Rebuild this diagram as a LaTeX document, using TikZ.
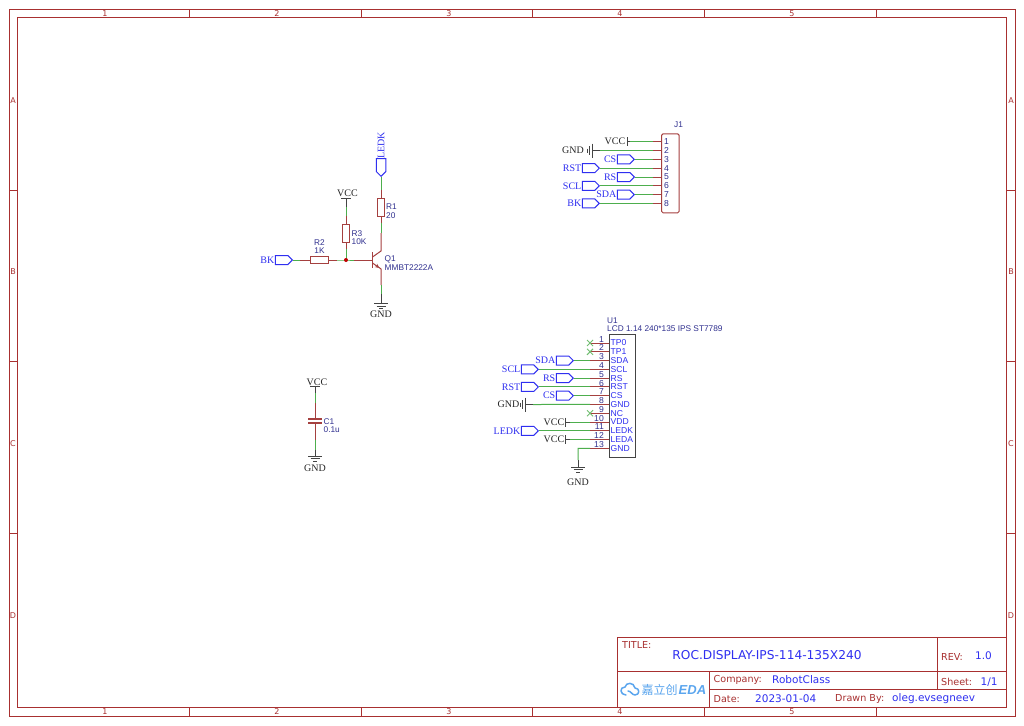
\documentclass[tikz,border=0pt]{standalone}
\usepackage{fontspec}
\setmainfont{Liberation Serif}
\newfontfamily\partfont{Liberation Sans}
\newfontfamily\sheetfont{DejaVu Sans}
\newfontfamily\cjk{Noto Sans CJK SC}
\usetikzlibrary{
    arrows.meta, % for the emitter arrow
    shapes.symbols, % for the net flags
    positioning
}
\definecolor{sheetred}{HTML}{A83030}
\definecolor{pinred}{HTML}{A5403F}
\definecolor{wiregreen}{HTML}{4DAE4D}
\definecolor{netblue}{HTML}{2F2FF0}
\definecolor{partblue}{HTML}{30308F}
\definecolor{symgrey}{HTML}{444444}
\definecolor{logoblue}{HTML}{5AA5EE}

\tikzset{
    wire/.style      = {wiregreen,line width=1pt},
    pin/.style       = {pinred,line width=1pt},
    stub/.style      = {symgrey,line width=1pt},
    part/.style      = {draw=pinred,line width=1pt,fill=white,inner sep=0pt},
    frameline/.style = {draw=sheetred,line width=1pt},
    netflag/.style   = {signal,signal to=east,draw=netblue,line width=1pt,fill=white,anchor=east,
                        minimum width=17pt,minimum height=9pt,inner sep=0pt},
    netname/.style   = {netblue,font=\fontsize{10}{11}\selectfont,inner sep=0.3pt},
    power/.style     = {black!85,font=\fontsize{10}{11}\selectfont,inner sep=0pt},
    refname/.style   = {partblue,font=\partfont\fontsize{8.3}{9}\selectfont,inner sep=0pt,anchor=west},
    pinnum/.style    = {partblue,font=\partfont\fontsize{8.6}{9}\selectfont,inner sep=0pt},
    pinname/.style   = {netblue,font=\partfont\fontsize{8.6}{9}\selectfont,inner sep=0pt,anchor=west},
    nocon/.style     = {wiregreen!80!white,line width=1pt},
    sheetkey/.style  = {sheetred,font=\sheetfont\fontsize{9.6}{10}\selectfont,inner sep=0pt,anchor=west},
    sheetval/.style  = {netblue,font=\sheetfont\fontsize{10.5}{11}\selectfont,inner sep=0pt,anchor=west},
    zone/.style      = {sheetred,font=\sheetfont\fontsize{8}{9}\selectfont,inner sep=0pt},
    gnd/.pic = {
        \draw[stub] (-7,0) -- (7,0) (-4.5,2.6) -- (4.5,2.6) (-2,5) -- (2,5);
    }
}

\begin{document}
\begin{tikzpicture}[x=1pt,y=-1pt]
    \useasboundingbox (0,0) rectangle (1024,725);
    \fill[white] (0,0) rectangle (1024,725);

    % sheet frame
    \draw[frameline] (9,9.5) rectangle (1015,716);
    \draw[frameline] (17,18) rectangle (1006,707);
    \foreach \x in {189,361,532,704,876}
        \draw[frameline] (\x,9.5) -- (\x,18) (\x,707) -- (\x,716);
    \foreach \y in {190,361,533}
        \draw[frameline] (9,\y) -- (17,\y) (1006,\y) -- (1015,\y);
    \foreach \x/\n in {105/1,277/2,449/3,620/4,792/5} {
        \node[zone] (zt\n) at (\x,14) {\n};
        \node[zone] (zb\n) at (\x,712) {\n};
    }
    \foreach \y/\n in {101/A,272/B,444/C,616/D} {
        \node[zone] (zl\n) at (13,\y) {\n};
        \node[zone] (zr\n) at (1011,\y) {\n};
    }

    % title block
    \draw[frameline] (617.5,637) rectangle (1006,707);
    \draw[frameline] (617.5,671) -- (1006,671) (709,689) -- (1006,689);
    \draw[frameline] (709,671) -- (709,707) (937,637) -- (937,689);
    \node[sheetkey] (ttl)  at (622,645) {TITLE:};
    \node[netblue,font=\sheetfont\fontsize{12.2}{13}\selectfont,inner sep=0pt] (ttlv) at (767,655) {ROC.DISPLAY-IPS-114-135X240};
    \node[sheetkey] (rev)  at (941,656.5) {REV:};
    \node[sheetval] (revv) at (975,656) {1.0};
    \node[sheetkey] (comp) at (713.5,680) {Company:};
    \node[sheetval] (compv) at (772,680) {RobotClass};
    \node[sheetkey] (sht)  at (941,682) {Sheet:};
    \node[sheetval] (shtv) at (980.5,682) {1/1};
    \node[sheetkey] (dat)  at (713.5,699) {Date:};
    \node[sheetval] (datv) at (755,699) {2023-01-04};
    \node[sheetkey] (drw)  at (835,699) {Drawn By:};
    \node[sheetval] (drwv) at (892,699) {oleg.evsegneev};
    \draw[logoblue,line width=1.5pt,line cap=round,line join=round]
        (626,695) .. controls (620,695) and (619,687) .. (625,687)
        .. controls (626,682) and (634,682) .. (635,688)
        .. controls (640,688) and (640,695) .. (635,695)
        .. controls (632,695) and (631,691) .. (628,691);
    \node[logoblue,font=\cjk\fontsize{12}{13}\selectfont,inner sep=0pt,anchor=west] (logoa) at (641.5,690) {嘉立创};
    \node[logoblue,font=\partfont\bfseries\itshape\fontsize{13}{14}\selectfont,inner sep=0pt,anchor=west] (logob) at (678.5,690) {EDA};

    % driver stage
    \node[part,minimum width=7.5pt,minimum height=17.5pt] (r1) at (381,207.5) {};
    \node[part,minimum width=7.5pt,minimum height=17.5pt] (r3) at (346,233.5) {};
    \node[part,minimum width=18pt,minimum height=6.8pt]   (r2) at (319.5,260) {};
    \node[netflag,signal to=south,anchor=south,minimum width=9.5pt,minimum height=13pt] (ledkq) at (381,177) {};
    \node[netname,rotate=90,inner sep=0pt] (ledkn) at (381,145.5) {LEDK};
    \node[netflag,label={[netname]left:BK}] (bkq) at (293,260) {};
    \node[power] (vccq) at (347.5,193) {VCC};
    \node[power] (gndq) at (381,314) {GND};
    \node[refname] (r1n) at (386,207) {R1};
    \node[refname] (r1v) at (386,215.5) {20};
    \node[refname] (r3n) at (351.5,234) {R3};
    \node[refname] (r3v) at (351.5,242) {10K};
    \node[refname,anchor=center] (r2n) at (319.5,243) {R2};
    \node[refname,anchor=center] (r2v) at (319.5,251) {1K};
    \node[refname] (q1n) at (384.5,259.5) {Q1};
    \node[refname] (q1v) at (384.5,268) {MMBT2222A};
    \coordinate (jn) at (346,260);
    \coordinate (qb) at (372.5,260);
    \coordinate (qc) at (381,251);
    \coordinate (qe) at (381,269);
    \coordinate (gq) at (381,303.5);
    \coordinate (vq) at (346,198.5);
    \draw[wire] (ledkq.south) -- (381,190);
    \draw[pin]  (381,190) -- (r1.north);
    \draw[pin]  (r1.south) -- (381,223);
    \draw[wire] (381,223) -- (381,233);
    \draw[pin]  (381,233) -- (qc) -- (372.5,257);
    \draw[pinred,line width=1.6pt] (372.5,252) -- (372.5,268);
    \draw[pin,-{Stealth[length=4.5pt,width=4pt]}] (372.5,263) -- (379.5,268);
    \draw[pin]  (379,267.5) -- (qe) -- (381,285);
    \draw[wire] (381,285) -- (381,294);
    \draw[stub] (381,294) -- (gq);
    \pic at (gq) {gnd};
    \draw[stub] (341,198.5) -- (351,198.5) (vq) -- (346,207);
    \draw[wire] (346,207) -- (346,216);
    \draw[pin]  (346,216) -- (r3.north);
    \draw[pin]  (r3.south) -- (346,249);
    \draw[wire] (346,249) -- (jn);
    \draw[wire] (bkq.east) -- (300,260);
    \draw[pin]  (300,260) -- (r2.west);
    \draw[pin]  (r2.east) -- (337,260);
    \draw[wire] (337,260) -- (jn) -- (354,260);
    \draw[pin]  (354,260) -- (qb);
    \fill[red!75!black] (jn) circle (2pt);

    % bypass cap
    \node[power] (vccc) at (317,382) {VCC};
    \node[power] (gndc) at (315,468) {GND};
    \node[refname] (c1n) at (323.5,421.5) {C1};
    \node[refname] (c1v) at (323.5,430) {0.1u};
    \coordinate (ca) at (315,419);
    \coordinate (cb) at (315,423);
    \draw[stub] (310,386) -- (320,386) (315,386) -- (315,393);
    \draw[wire] (315,393) -- (315,403);
    \draw[pin]  (315,403) -- (ca);
    \draw[pinred,line width=1.5pt] (308,419) -- (322,419) (308,423) -- (322,423);
    \draw[pin]  (cb) -- (315,440);
    \draw[wire] (315,440) -- (315,450);
    \draw[stub] (315,450) -- (315,456);
    \pic at (315,456) {gnd};

    % header J1
    \node[part,rounded corners=1.5pt,anchor=north west,minimum width=17.7pt,minimum height=79pt] (j1) at (661,133.3) {};
    \node[refname,anchor=center] (j1n) at (678.5,124.5) {J1};
    \foreach \n in {1,...,8} {
        \pgfmathsetmacro{\py}{141.8+(\n-1)*8.8}
        \coordinate (j1w\n) at (653,\py);
        \coordinate (j1e\n) at (661,\py);
        \draw[pin] (j1w\n) -- (j1e\n);
        \node[pinnum] (j1p\n) at (666.5,\py) {\n};
    }
    \foreach \name/\txt/\fx/\n in {csj/CS/635/3,rstj/RST/600/4,rsj/RS/635/5,sclj/SCL/600/6,sdaj/SDA/635/7,bkj/BK/600/8} {
        \node[netflag,label={[netname]left:\txt}] (\name) at (\fx,{141.8+(\n-1)*8.8}) {};
        \draw[wire] (\name.east) -- (j1w\n);
    }
    \node[power,anchor=east] (vccj) at (625.5,141.5) {VCC};
    \coordinate (vj) at (627,141.8);
    \draw[stub] (627,137.3) -- (627,146.3) (vj) -- (630,141.8);
    \draw[wire] (630,141.8) -- (j1w1);
    \node[power,anchor=east] (gndj) at (584,150.5) {GND};
    \coordinate (gj) at (592,150.6);
    \pic[rotate=-90] at (gj) {gnd};
    \draw[stub] (gj) -- (600,150.6);
    \draw[wire] (600,150.6) -- (j1w2);

    % display U1
    \node[draw=symgrey,line width=1pt,inner sep=0pt,anchor=north west,minimum width=26pt,minimum height=123pt] (u1) at (608.7,334.3) {};
    \node[refname] (u1n) at (607,321) {U1};
    \node[refname] (u1v) at (607,329) {LCD 1.14 240*135 IPS ST7789};
    \foreach \n/\txt in {1/TP0,2/TP1,3/SDA,4/SCL,5/RS,6/RST,7/CS,8/GND,9/NC,10/VDD,11/LEDK,12/LEDA,13/GND} {
        \pgfmathsetmacro{\py}{343+(\n-1)*8.78}
        \coordinate (u1w\n) at (590,\py);
        \coordinate (u1e\n) at (608.7,\py);
        \draw[pin] (u1w\n) -- (u1e\n);
        \node[pinnum,anchor=east] (u1p\n) at (604,\py-3.8) {\n};
        \node[pinname] (u1t\n) at (610.5,\py) {\txt};
    }
    \foreach \n in {1,2,9}
        \draw[nocon] ([shift={(-3,-3)}]u1w\n) -- ([shift={(3,3)}]u1w\n) ([shift={(-3,3)}]u1w\n) -- ([shift={(3,-3)}]u1w\n);
    \foreach \name/\txt/\fx/\n in {sdau/SDA/574/3,sclu/SCL/539/4,rsu/RS/574/5,rstu/RST/539/6,csu/CS/574/7,ledku/LEDK/539/11} {
        \node[netflag,label={[netname]left:\txt}] (\name) at (\fx,{343+(\n-1)*8.78}) {};
        \draw[wire] (\name.east) -- (u1w\n);
    }
    \node[power,anchor=east] (gndu) at (519.5,404.5) {GND};
    \coordinate (gu) at (525.5,404.5);
    \pic[rotate=-90] at (gu) {gnd};
    \draw[stub] (gu) -- (533,404.5);
    \draw[wire] (533,404.5) -- (u1w8);
    \foreach \name/\n in {vccu/10,vcca/12} {
        \node[power,anchor=east] (\name) at (564.5,{343+(\n-1)*8.78}) {VCC};
        \draw[stub] (565.8,{343+(\n-1)*8.78-4.5}) -- (565.8,{343+(\n-1)*8.78+4.5})
            (565.8,{343+(\n-1)*8.78}) -- (570,{343+(\n-1)*8.78});
        \draw[wire] (570,{343+(\n-1)*8.78}) -- (u1w\n);
    }
    \node[power] (gndl) at (578,482) {GND};
    \coordinate (gl) at (578,467);
    \pic at (gl) {gnd};
    \draw[stub] (578,460) -- (gl);
    \draw[wire] (u1w13) -- (578,448.4) -- (578,460);
\end{tikzpicture}
\end{document}
